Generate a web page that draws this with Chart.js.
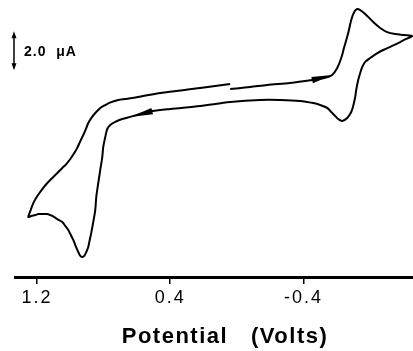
<!DOCTYPE html>
<html>
<head>
<meta charset="utf-8">
<title>Cyclic voltammogram</title>
<script src="https://cdn.jsdelivr.net/npm/chart.js@4"></script>
<style>
    html, body { margin: 0; padding: 0; background: #fff; }
    #wrap { width: 413px; height: 351px; }
</style>
</head>
<body>
<div id="wrap"><canvas id="cvChart"></canvas></div>
<script>
// Potential (V) and current (uA, arbitrary offset) along the scan, in scan order
const potentialV = [
    0.040, -0.080, -0.182, -0.320, -0.452, -0.530, -0.572, -0.603, -0.627, -0.645, -0.669,
    -0.687, -0.705, -0.723, -0.741, -0.771, -0.819, -0.861, -0.903, -0.951, -1.005, -1.053,
    -1.017, -0.981, -0.933, -0.879, -0.837, -0.801, -0.771, -0.753, -0.741, -0.729, -0.717,
    -0.711, -0.699, -0.687, -0.663, -0.633, -0.609, -0.591, -0.567, -0.543, -0.501, -0.459,
    -0.380, -0.260, -0.140, 0.040, 0.220, 0.400, 0.508, 0.580, 0.640, 0.688, 0.730,
    0.760, 0.778, 0.790, 0.802, 0.808, 0.820, 0.832, 0.844, 0.850, 0.862, 0.874,
    0.886, 0.892, 0.904, 0.916, 0.928, 0.940, 0.952, 0.970, 0.982, 1.000, 1.012,
    1.030, 1.048, 1.078, 1.108, 1.138, 1.168, 1.192, 1.210, 1.234, 1.252,
    1.240, 1.222, 1.198, 1.168, 1.138, 1.108, 1.078, 1.048, 1.024, 1.000, 0.976,
    0.958, 0.940, 0.922, 0.904, 0.892, 0.874, 0.850, 0.820, 0.790,
    0.754, 0.712, 0.670, 0.628, 0.460, 0.220, 0.040
];
const currentUA = [
    9.64, 9.74, 9.85, 9.95, 10.10, 10.21, 10.36, 10.72, 11.23, 11.79, 12.51,
    13.18, 13.59, 13.74, 13.69, 13.49, 13.08, 12.77, 12.56, 12.46, 12.41, 12.36,
    12.21, 12.05, 11.85, 11.64, 11.44, 11.23, 11.03, 10.77, 10.46, 10.10, 9.59,
    9.23, 8.77, 8.46, 8.15, 8.00, 8.10, 8.26, 8.46, 8.67, 8.82, 8.92,
    9.03, 9.08, 9.08, 8.97, 8.77, 8.62, 8.51, 8.36, 8.21, 8.10, 7.95,
    7.79, 7.59, 7.18, 6.67, 6.15, 5.49, 4.82, 4.10, 3.44, 2.82, 2.26,
    1.79, 1.54, 1.28, 1.08, 1.03, 1.08, 1.28, 1.64, 1.90, 2.21, 2.41,
    2.62, 2.82, 2.97, 3.13, 3.23, 3.23, 3.23, 3.18, 3.13, 3.08,
    3.38, 3.79, 4.15, 4.51, 4.82, 5.08, 5.33, 5.59, 5.79, 6.05, 6.36,
    6.62, 6.97, 7.28, 7.64, 7.90, 8.15, 8.41, 8.67, 8.82,
    8.97, 9.08, 9.13, 9.18, 9.44, 9.69, 9.90
];
const tickValues = [1.2, 0.4, -0.4];
const tickLabels = ['1.2', '0.4', '-0.4'];
const axisTitle = 'Potential   (Volts)';
const scaleBarLabel = '2.0  \u03bcA';
const scaleBarSize = 2.0;     // uA
const scaleBarTop = 12.6;     // uA
// scan direction arrows: [from index, to index] along the trace
const scanArrows = [[4, 6], [50, 52]];

document.addEventListener('DOMContentLoaded', function() {
    const points = potentialV.map((v, i) => ({ x: v, y: currentUA[i] }));

    // arrows on the trace, scale bar and axis title
    const extras = {
        id: 'extras',
        beforeDraw(chart) {
            chart.ctx.letterSpacing = '2px';
        },
        afterDraw(chart) {
            const ctx = chart.ctx;
            const xs = chart.scales.x, ys = chart.scales.y;
            ctx.save();
            ctx.fillStyle = '#000';
            ctx.strokeStyle = '#000';

            scanArrows.forEach(([a, b]) => {
                const x0 = xs.getPixelForValue(potentialV[a]), y0 = ys.getPixelForValue(currentUA[a]);
                const x1 = xs.getPixelForValue(potentialV[b]), y1 = ys.getPixelForValue(currentUA[b]);
                const len = Math.hypot(x1 - x0, y1 - y0);
                const nx = -(y1 - y0) / len * 3.2, ny = (x1 - x0) / len * 3.2;
                ctx.beginPath();
                ctx.moveTo(x1, y1);
                ctx.lineTo(x0 + nx, y0 + ny);
                ctx.lineTo(x0 - nx, y0 - ny);
                ctx.closePath();
                ctx.fill();
            });

            // 2.0 uA scale bar
            const bx = 14;
            const top = ys.getPixelForValue(scaleBarTop);
            const bot = ys.getPixelForValue(scaleBarTop - scaleBarSize);
            ctx.lineWidth = 1.5;
            ctx.beginPath();
            ctx.moveTo(bx, top + 5);
            ctx.lineTo(bx, bot - 5);
            ctx.stroke();
            ctx.beginPath();
            ctx.moveTo(bx, top); ctx.lineTo(bx - 2.5, top + 7); ctx.lineTo(bx + 2.5, top + 7);
            ctx.closePath();
            ctx.moveTo(bx, bot); ctx.lineTo(bx - 2.5, bot - 7); ctx.lineTo(bx + 2.5, bot - 7);
            ctx.closePath();
            ctx.fill();
            ctx.letterSpacing = '1px';
            ctx.font = 'bold 14px "Liberation Sans", Arial, sans-serif';
            ctx.textBaseline = 'middle';
            ctx.textAlign = 'left';
            ctx.fillText(scaleBarLabel, 24, (top + bot) / 2 + 1);

            // axis title
            ctx.letterSpacing = '1.5px';
            ctx.font = 'bold 22px "Liberation Sans", Arial, sans-serif';
            ctx.textAlign = 'center';
            ctx.textBaseline = 'alphabetic';
            ctx.fillText(axisTitle, 225, 343);
            ctx.restore();
            ctx.letterSpacing = '0px';
        }
    };

    new Chart(document.getElementById('cvChart'), {
        type: 'line',
        data: {
            datasets: [{
                data: points,
                borderColor: '#000',
                borderWidth: 2,
                pointRadius: 0,
                tension: 0.3,
                fill: false,
                clip: false
            }]
        },
        options: {
            responsive: true,
            maintainAspectRatio: false,
            animation: false,
            events: [],
            layout: { padding: { left: 15, right: 0, top: 0, bottom: 0 } },
            plugins: { legend: { display: false }, tooltip: { enabled: false } },
            scales: {
                x: {
                    type: 'linear',
                    reverse: true,
                    min: -1.058,
                    max: 1.332,
                    afterBuildTicks: scale => {
                        scale.ticks = tickValues.map(v => ({ value: v }));
                    },
                    afterFit: scale => { scale.height = 74; },
                    ticks: {
                        color: '#000',
                        padding: 3,
                        maxRotation: 0,
                        font: { family: '"Liberation Sans", Arial, sans-serif', size: 18 },
                        callback: (v) => tickLabels[tickValues.indexOf(v)]
                    },
                    grid: {
                        drawOnChartArea: false,
                        drawTicks: true,
                        tickLength: 7,
                        color: '#000',
                        lineWidth: 1.5
                    },
                    border: { display: true, color: '#000', width: 3 }
                },
                y: {
                    type: 'linear',
                    display: false,
                    min: 0,
                    max: 14.205
                }
            }
        },
        plugins: [extras]
    });
});
</script>
</body>
</html>
